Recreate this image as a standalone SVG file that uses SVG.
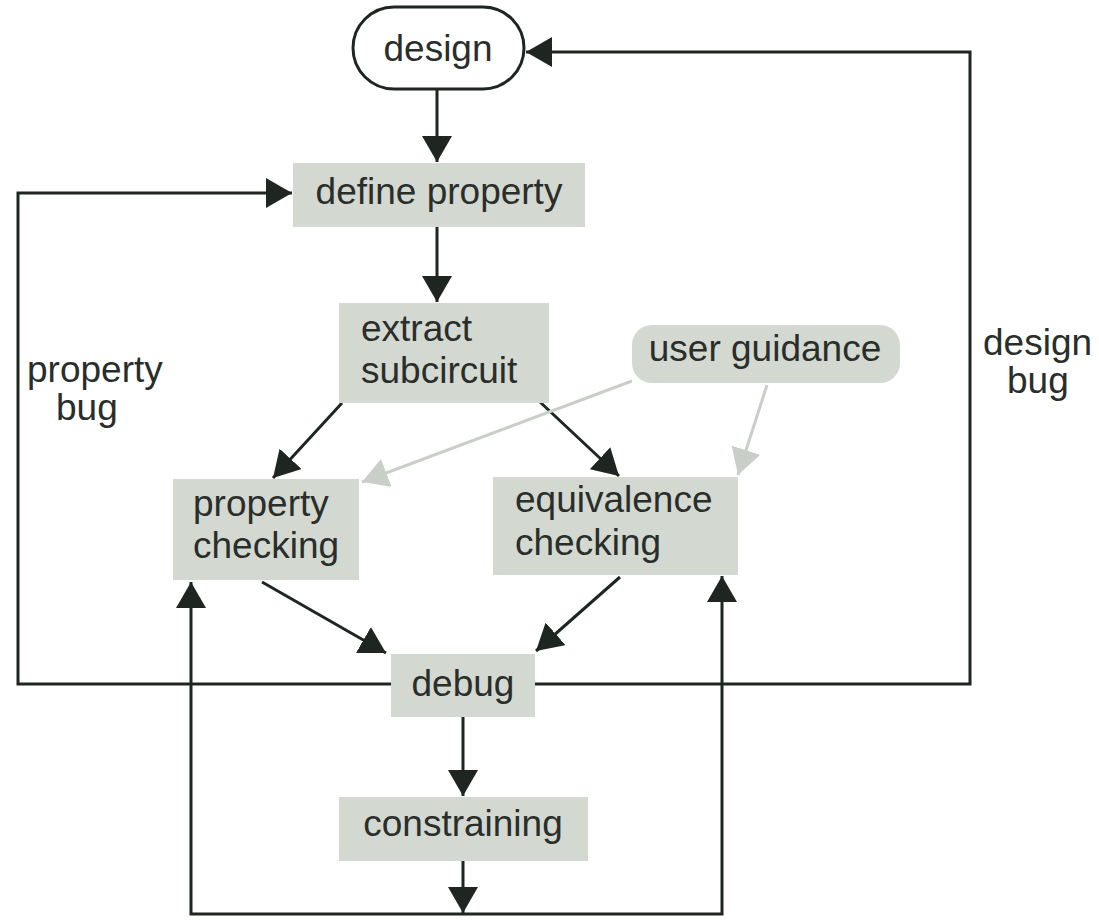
<svg xmlns="http://www.w3.org/2000/svg" width="1099" height="920" viewBox="0 0 1099 920">
  <style>
    .box { fill: #d3d8d1; }
    .lbl { font-family: "Liberation Sans", Arial, sans-serif; font-size: 37px; fill: #2a2e2b; }
    .mid { text-anchor: middle; }
    .flow { fill: none; stroke: #1f2621; stroke-width: 3; }
    .hint { fill: none; stroke: #c9cfc8; stroke-width: 3; }
  </style>
  <defs>
    <marker id="head" markerUnits="userSpaceOnUse" markerWidth="28" markerHeight="30" refX="26" refY="15" orient="auto">
      <path d="M0,0 L26,15 L0,30 z" fill="#1f2621"/>
    </marker>
    <marker id="headLight" markerUnits="userSpaceOnUse" markerWidth="28" markerHeight="30" refX="26" refY="15" orient="auto">
      <path d="M0,0 L26,15 L0,30 z" fill="#c9cfc8"/>
    </marker>
  </defs>
  <rect width="1099" height="920" fill="#ffffff"/>

  <!-- connectors -->
  <g id="connectors">
    <path class="flow" d="M437,90 V162" marker-end="url(#head)"/>
    <path class="flow" d="M437,227 V302" marker-end="url(#head)"/>
    <path class="flow" d="M342,403 L273,478" marker-end="url(#head)"/>
    <path class="flow" d="M540,402 L619,476" marker-end="url(#head)"/>
    <path class="hint" d="M632,381 L362,482" marker-end="url(#headLight)"/>
    <path class="hint" d="M767,385 L738,475" marker-end="url(#headLight)"/>
    <path class="flow" d="M262,582 L386,653" marker-end="url(#head)"/>
    <path class="flow" d="M620,577 L536,651" marker-end="url(#head)"/>
    <path class="flow" d="M463,717 V796" marker-end="url(#head)"/>
    <path class="flow" d="M463,861 V913" marker-end="url(#head)"/>
    <!-- return loop under constraining -->
    <path class="flow" d="M463,914 H191 V582" marker-end="url(#head)"/>
    <path class="flow" d="M463,914 H722 V576" marker-end="url(#head)"/>
    <!-- property bug feedback -->
    <path class="flow" d="M391,684 H18 V193 H292" marker-end="url(#head)"/>
    <!-- design bug feedback -->
    <path class="flow" d="M535,684 H970 V52 H526" marker-end="url(#head)"/>
  </g>

  <g id="design">
    <rect x="353" y="7" width="171" height="82" rx="41" fill="#ffffff" stroke="#1f2621" stroke-width="3"/>
    <text class="lbl mid" x="438" y="61">design</text>
  </g>

  <g id="define-property">
    <rect class="box" x="293" y="163" width="292" height="64"/>
    <text class="lbl mid" x="439" y="204">define property</text>
  </g>

  <g id="extract-subcircuit">
    <rect class="box" x="339" y="303" width="210" height="100"/>
    <text class="lbl" x="361" y="341">extract</text>
    <text class="lbl" x="361" y="383">subcircuit</text>
  </g>

  <g id="user-guidance">
    <rect class="box" x="632" y="325" width="268" height="58" rx="20"/>
    <text class="lbl mid" x="765" y="361">user guidance</text>
  </g>

  <g id="property-checking">
    <rect class="box" x="173" y="479" width="186" height="101"/>
    <text class="lbl" x="193" y="516">property</text>
    <text class="lbl" x="193" y="558">checking</text>
  </g>

  <g id="equivalence-checking">
    <rect class="box" x="493" y="477" width="245" height="98"/>
    <text class="lbl" x="515" y="512">equivalence</text>
    <text class="lbl" x="515" y="555">checking</text>
  </g>

  <g id="debug">
    <rect class="box" x="391" y="654" width="144" height="63"/>
    <text class="lbl mid" x="463" y="696">debug</text>
  </g>

  <g id="constraining">
    <rect class="box" x="339" y="797" width="249" height="64"/>
    <text class="lbl mid" x="463" y="836">constraining</text>
  </g>

  <g id="property-bug">
    <text class="lbl" x="27" y="382">property</text>
    <text class="lbl" x="56" y="420">bug</text>
  </g>

  <g id="design-bug">
    <text class="lbl" x="983" y="355">design</text>
    <text class="lbl" x="1007" y="393">bug</text>
  </g>
</svg>
